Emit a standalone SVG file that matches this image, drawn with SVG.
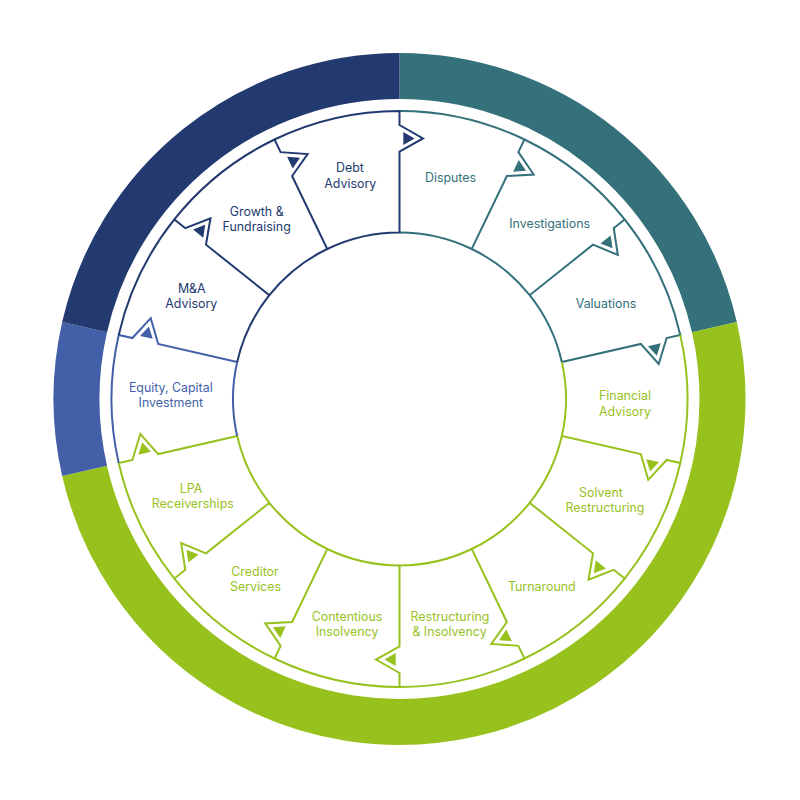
<svg xmlns="http://www.w3.org/2000/svg" xmlns:xlink="http://www.w3.org/1999/xlink" width="800" height="800" viewBox="0 0 800 800">
<style>
  .lbl{font-family:Inter,"Noto Sans","Liberation Sans",sans-serif;font-size:12.4px;text-anchor:middle;fill:currentColor}
  .ring{fill:none;stroke-width:46}
  .navy{color:#233a70}
  .teal{color:#34717a}
  .green{color:#97c21e}
  .blue{color:#435fa8}
</style>
<defs>
  <g id="segshape">
    <path d="M-124.96,-259.48 A288,288 0 0 1 0,-288 L0,-274 L23.5,-260.5 L0,-247.5 L0,-166.5 A166.5,166.5 0 0 0 -72.24,-150.01" fill="none" stroke="currentColor" stroke-width="2" stroke-linejoin="miter"/>
    <path d="M3.8,-267 L3.8,-254 L15,-260.5 Z" fill="currentColor"/>
  </g>
</defs>
<rect width="800" height="800" fill="#ffffff"/>
<g id="outer-ring">
  <path class="ring" stroke="#34717a" d="M399.5,76 A323,323 0 0 1 714.4,327.13"/>
  <path class="ring" stroke="#97c21e" d="M714.4,327.13 A323,323 0 0 1 471.37,713.9 A323,323 0 0 1 84.6,470.87"/>
  <path class="ring" stroke="#435fa8" d="M84.6,470.87 A323,323 0 0 1 84.6,327.13"/>
  <path class="ring" stroke="#233a70" d="M84.6,327.13 A323,323 0 0 1 399.5,76"/>
</g>
<g id="connectors"></g>
<g id="disputes" class="teal">
  <use href="#segshape" xlink:href="#segshape" transform="translate(399.5,399) rotate(25.714)"/>
  <text class="lbl" x="450.5" y="181.5">Disputes</text>
</g>
<g id="investigations" class="teal">
  <use href="#segshape" xlink:href="#segshape" transform="translate(399.5,399) rotate(51.429)"/>
  <text class="lbl" x="549.7" y="227.5">Investigations</text>
</g>
<g id="valuations" class="teal">
  <use href="#segshape" xlink:href="#segshape" transform="translate(399.5,399) rotate(77.143)"/>
  <text class="lbl" x="606" y="308">Valuations</text>
</g>
<g id="financial-advisory" class="green">
  <use href="#segshape" xlink:href="#segshape" transform="translate(399.5,399) rotate(102.857)"/>
  <text class="lbl"><tspan x="625" y="400">Financial</tspan><tspan x="625" y="415.5">Advisory</tspan></text>
</g>
<g id="solvent-restructuring" class="green">
  <use href="#segshape" xlink:href="#segshape" transform="translate(399.5,399) rotate(128.571)"/>
  <text class="lbl"><tspan x="601" y="496.7">Solvent</tspan><tspan x="605" y="512">Restructuring</tspan></text>
</g>
<g id="turnaround" class="green">
  <use href="#segshape" xlink:href="#segshape" transform="translate(399.5,399) rotate(154.286)"/>
  <text class="lbl" x="541.8" y="591.3">Turnaround</text>
</g>
<g id="restructuring-insolvency" class="green">
  <use href="#segshape" xlink:href="#segshape" transform="translate(399.5,399) rotate(180)"/>
  <text class="lbl"><tspan x="450" y="620.7">Restructuring</tspan><tspan x="449.5" y="636">&amp; Insolvency</tspan></text>
</g>
<g id="contentious-insolvency" class="green">
  <use href="#segshape" xlink:href="#segshape" transform="translate(399.5,399) rotate(205.714)"/>
  <text class="lbl"><tspan x="347" y="620.7">Contentious</tspan><tspan x="347" y="636">Insolvency</tspan></text>
</g>
<g id="creditor-services" class="green">
  <use href="#segshape" xlink:href="#segshape" transform="translate(399.5,399) rotate(231.429)"/>
  <text class="lbl"><tspan x="255" y="576">Creditor</tspan><tspan x="255.5" y="591">Services</tspan></text>
</g>
<g id="lpa-receiverships" class="green">
  <use href="#segshape" xlink:href="#segshape" transform="translate(399.5,399) rotate(257.143)"/>
  <text class="lbl"><tspan x="191" y="493.3">LPA</tspan><tspan x="192.8" y="508.3">Receiverships</tspan></text>
</g>
<g id="equity-capital-investment" class="blue">
  <use href="#segshape" xlink:href="#segshape" transform="translate(399.5,399) rotate(282.857)"/>
  <text class="lbl"><tspan x="170.8" y="392.3">Equity, Capital</tspan><tspan x="170.8" y="406.7">Investment</tspan></text>
</g>
<g id="ma-advisory" class="navy">
  <use href="#segshape" xlink:href="#segshape" transform="translate(399.5,399) rotate(308.571)"/>
  <text class="lbl"><tspan x="191.8" y="292.7">M&amp;A</tspan><tspan x="191.3" y="307.7">Advisory</tspan></text>
</g>
<g id="growth-fundraising" class="navy">
  <use href="#segshape" xlink:href="#segshape" transform="translate(399.5,399) rotate(334.286)"/>
  <text class="lbl"><tspan x="256.7" y="216">Growth &amp;</tspan><tspan x="256.7" y="231">Fundraising</tspan></text>
</g>
<g id="debt-advisory" class="navy">
  <use href="#segshape" xlink:href="#segshape" transform="translate(399.5,399) rotate(360)"/>
  <text class="lbl"><tspan x="350" y="172">Debt</tspan><tspan x="350.3" y="187.5">Advisory</tspan></text>
</g>
</svg>
